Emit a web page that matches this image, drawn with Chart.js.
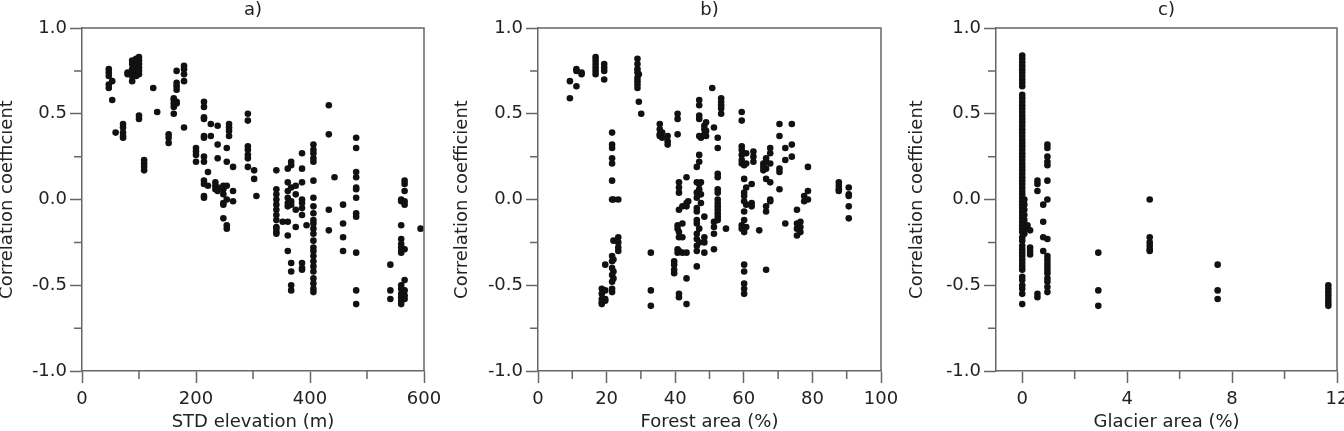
<!DOCTYPE html>
<html>
<head>
<meta charset="utf-8">
<script src="https://cdn.jsdelivr.net/npm/chart.js@4"></script>
<style>
  html, body { margin: 0; padding: 0; background: #fff; }
  body { position: relative; width: 1344px; height: 431px; overflow: hidden; }
  .panel { position: absolute; top: 0; height: 431px; }
</style>
</head>
<body>
<div class="panel" style="left:-14px;width:470px"><canvas id="chartA"></canvas></div>
<div class="panel" style="left:442px;width:472px"><canvas id="chartB"></canvas></div>
<div class="panel" style="left:900px;width:444px"><canvas id="chartC"></canvas></div>
<script>
// correlation axis, shared by the three panels
const corrTicks = [-1, -0.75, -0.5, -0.25, 0, 0.25, 0.5, 0.75, 1];
const corrMajor = [-1, -0.5, 0, 0.5, 1];

// a) STD elevation (m): x of each column and the correlations stacked on it
const elevTicks = [0, 100, 200, 300, 400, 500, 600];
const elevMajor = [0, 200, 400, 600];
const elevX = [47, 53, 59, 72, 80, 88, 95, 100, 109, 125, 132, 152, 161, 166, 179,
  200, 214, 221, 226, 234, 238, 248, 254, 258, 265, 291, 302, 306,
  341, 352, 361, 367, 375, 386, 394, 406, 433, 443, 458, 481, 541, 560, 566, 594];
const elevCorr = [
  [0.76, 0.74, 0.72, 0.67, 0.65],
  [0.69, 0.58],
  [0.39],
  [0.44, 0.42, 0.39, 0.37, 0.36],
  [0.74, 0.73],
  [0.81, 0.79, 0.76, 0.74, 0.72, 0.69],
  [0.82, 0.80, 0.78, 0.76, 0.74, 0.72],
  [0.83, 0.81, 0.79, 0.77, 0.75, 0.73, 0.49, 0.47],
  [0.23, 0.21, 0.19, 0.17],
  [0.65],
  [0.51],
  [0.38, 0.36, 0.33],
  [0.59, 0.58, 0.56, 0.54, 0.50],
  [0.75, 0.68, 0.66, 0.64, 0.57, 0.56],
  [0.78, 0.76, 0.73, 0.69, 0.42],
  [0.30, 0.28, 0.26, 0.22],
  [0.57, 0.54, 0.48, 0.47, 0.37, 0.36, 0.25, 0.22, 0.11, 0.09, 0.02, 0.01],
  [0.16, 0.08],
  [0.44, 0.37],
  [0.10, 0.08, 0.06],
  [0.43, 0.32, 0.24, 0.07, 0.05],
  [0.08, 0.06, 0.03, -0.02, -0.03, -0.11],
  [0.30, 0.22, 0.08, 0.00, -0.15, -0.17],
  [0.44, 0.42, 0.40, 0.37],
  [0.19, 0.05, -0.01],
  [0.50, 0.46, 0.31, 0.29, 0.26, 0.24, 0.19],
  [0.17, 0.12],
  [0.02],
  [0.17, 0.06, 0.03, 0.00, -0.03, -0.06, -0.09, -0.12, -0.16, -0.17, -0.19, -0.20],
  [-0.13],
  [0.18, 0.10, 0.05, 0.01, -0.02, -0.04, -0.13, -0.21, -0.30],
  [0.22, 0.20, 0.07, -0.01, -0.03, -0.37, -0.42, -0.50, -0.53],
  [0.08, 0.03, -0.06, -0.16],
  [0.27, 0.18, 0.10, 0.00, -0.02, -0.05, -0.09, -0.37, -0.40, -0.41],
  [-0.15],
  [0.32, 0.29, 0.27, 0.24, 0.22, 0.11, 0.01, -0.04, -0.08, -0.12, -0.14, -0.17, -0.20, -0.24,
   -0.28, -0.30, -0.33, -0.36, -0.39, -0.42, -0.46, -0.49, -0.52, -0.54],
  [0.55, 0.38, -0.06, -0.18],
  [0.13],
  [-0.03, -0.14, -0.22, -0.30],
  [0.36, 0.30, 0.16, 0.13, 0.07, 0.06, 0.01, -0.08, -0.10, -0.31, -0.53, -0.61],
  [-0.38, -0.53, -0.58],
  [0.00, -0.01, -0.15, -0.23, -0.26, -0.28, -0.30, -0.31, -0.50, -0.52, -0.55, -0.57, -0.59, -0.61],
  [0.11, 0.09, 0.05, -0.01, -0.03, -0.29, -0.47, -0.53, -0.56, -0.58],
  [-0.17]
];

// b) Forest area (%)
const forestTicks = [0, 10, 20, 30, 40, 50, 60, 70, 80, 90, 100];
const forestMajor = [0, 20, 40, 60, 80, 100];
const forestX = [9.3, 11.2, 12.7, 16.8, 18.6, 19.3, 19.6, 21.6, 22.0, 23.4, 29.0, 29.4, 30.1,
  32.9, 35.5, 36.2, 37.8, 39.7, 40.7, 41.1, 42.1, 43.3, 43.8, 46.3, 47.0, 47.5, 48.5, 49.0,
  50.8, 51.3, 52.4, 53.4, 54.8, 59.4, 60.1, 60.7, 62.3, 62.8, 64.5, 65.7, 66.5, 67.7,
  70.4, 72.1, 74.0, 75.5, 76.5, 77.6, 78.7, 87.7, 90.6];
const forestCorr = [
  [0.69, 0.59],
  [0.76, 0.75, 0.66],
  [0.74, 0.73],
  [0.83, 0.81, 0.79, 0.77, 0.75, 0.73],
  [-0.52, -0.55, -0.58, -0.60, -0.61],
  [0.79, 0.77, 0.75, 0.70],
  [-0.38, -0.53, -0.58, -0.59],
  [0.39, 0.32, 0.30, 0.24, 0.21, 0.11, 0.00, -0.33, -0.36, -0.40, -0.44, -0.48, -0.52, -0.54],
  [0.00, -0.24, -0.35, -0.42, -0.46],
  [0.00, -0.22, -0.25, -0.28, -0.30],
  [0.82, 0.79, 0.76, 0.74, 0.71, 0.69, 0.67, 0.65],
  [0.73, 0.57],
  [0.50],
  [-0.31, -0.53, -0.62],
  [0.44, 0.41, 0.38, 0.37],
  [0.39, 0.36],
  [0.37, 0.34, 0.32],
  [-0.36, -0.38, -0.41, -0.43],
  [0.50, 0.47, 0.38, -0.15, -0.17, -0.29, -0.31],
  [0.10, 0.07, 0.04, -0.06, -0.19, -0.22, -0.30, -0.55, -0.57],
  [-0.04, -0.14, -0.22, -0.31],
  [0.13, -0.02, -0.04, -0.31, -0.46, -0.61],
  [-0.01],
  [0.19, 0.10, 0.04, 0.01, -0.05, -0.07, -0.12, -0.14, -0.20, -0.23, -0.27, -0.30, -0.39],
  [0.58, 0.55, 0.49, 0.47, 0.37, 0.26, 0.22, 0.09, 0.06, -0.17, -0.25],
  [0.36, 0.10, 0.03, -0.02],
  [0.43, 0.41, 0.38, -0.10, -0.22, -0.25, -0.31],
  [0.45, 0.40, 0.37],
  [0.65],
  [0.42, -0.13, -0.16, -0.20, -0.29],
  [0.36, 0.30, 0.15, 0.13, 0.06, 0.04, 0.00, -0.02, -0.04, -0.06, -0.08, -0.10, -0.12],
  [0.59, 0.57, 0.55, 0.53, 0.50],
  [-0.17],
  [0.51, 0.46, 0.31, 0.29, 0.26, 0.23, 0.21, -0.15, -0.17],
  [0.20, 0.12, 0.04, 0.02, -0.01, -0.07, -0.12, -0.19, -0.38, -0.42, -0.49, -0.52, -0.55],
  [0.27, 0.21, 0.07, -0.03, -0.16],
  [0.09, -0.02, -0.04],
  [0.28, 0.25, 0.22],
  [-0.18],
  [0.21, 0.19, 0.17],
  [0.24, 0.22, 0.18, 0.12, -0.04, -0.07, -0.41],
  [0.30, 0.27, 0.21, 0.10, 0.00, -0.01],
  [0.44, 0.37, 0.18, 0.16, 0.06],
  [0.30, 0.23, -0.14],
  [0.44, 0.32, 0.25],
  [-0.06, -0.14, -0.17, -0.21],
  [-0.13, -0.16, -0.19],
  [0.02, -0.01],
  [0.19, 0.05, 0.00],
  [0.10, 0.08, 0.06, 0.05],
  [0.07, 0.03, 0.02, -0.04, -0.11]
];

// c) Glacier area (%)
const glacierTicks = [0, 2, 4, 6, 8, 10, 12];
const glacierMajor = [0, 4, 8, 12];
const glacierX = [0, 0.08, 0.2, 0.3, 0.58, 0.8, 0.96, 2.9, 4.86, 7.45, 11.67];
const glacierCorr = [
  [0.84, 0.82, 0.80, 0.78, 0.76, 0.74, 0.72, 0.70, 0.68, 0.66,
   0.61, 0.59, 0.57, 0.55, 0.53, 0.51, 0.49, 0.47, 0.45, 0.43, 0.41, 0.39, 0.37, 0.35,
   0.33, 0.31, 0.29, 0.27, 0.25, 0.23, 0.21, 0.19, 0.17, 0.15, 0.13, 0.11, 0.09, 0.07,
   0.05, 0.03, 0.01, -0.01, -0.03, -0.05, -0.07, -0.09, -0.11, -0.13, -0.15, -0.17, -0.19,
   -0.22, -0.24, -0.27, -0.29, -0.31, -0.33, -0.35, -0.37, -0.39, -0.41, -0.45, -0.47,
   -0.50, -0.52, -0.55, -0.61],
  [0.00, -0.03, -0.06, -0.09, -0.12, -0.16, -0.20],
  [-0.15, -0.17],
  [-0.18, -0.28, -0.30, -0.32],
  [0.11, 0.09, 0.05, -0.55, -0.57],
  [-0.03, -0.13, -0.22, -0.30],
  [0.32, 0.30, 0.25, 0.22, 0.20, 0.11, 0.00, -0.23, -0.33, -0.35, -0.37, -0.39, -0.41,
   -0.43, -0.46, -0.48, -0.51, -0.54],
  [-0.31, -0.53, -0.62],
  [0.00, -0.22, -0.25, -0.27, -0.29, -0.30],
  [-0.38, -0.53, -0.58],
  [-0.50, -0.52, -0.54, -0.56, -0.58, -0.60, -0.62]
];

const frameColor = "#666";
const textColor = "#222";

Chart.defaults.font.family = "'DejaVu Sans', sans-serif";
Chart.defaults.font.size = 18;
Chart.defaults.color = textColor;

function toPoints(xs, cols) {
  return xs.flatMap((x, i) => cols[i].map((y) => ({ x, y })));
}

// top/right frame lines and the short minor ticks
const framePlugin = {
  id: "frame",
  afterDraw(chart, args, opts) {
    const { ctx, chartArea: a, scales } = chart;
    ctx.save();
    ctx.strokeStyle = frameColor;
    ctx.lineWidth = 1.5;
    ctx.beginPath();
    ctx.moveTo(a.left, a.top);
    ctx.lineTo(a.right, a.top);
    ctx.lineTo(a.right, a.bottom);
    opts.xMinor.forEach((v) => {
      const px = scales.x.getPixelForValue(v);
      ctx.moveTo(px, a.bottom);
      ctx.lineTo(px, a.bottom + 8);
    });
    opts.yMinor.forEach((v) => {
      const py = scales.y.getPixelForValue(v);
      ctx.moveTo(a.left, py);
      ctx.lineTo(a.left - 8, py);
    });
    ctx.stroke();
    ctx.restore();
  },
};

function makePanel(id, cfg) {
  const xMinor = cfg.xTicks.filter((v) => !cfg.xMajor.includes(v));
  const yMinor = corrTicks.filter((v) => !corrMajor.includes(v));
  return new Chart(document.getElementById(id), {
    type: "scatter",
    data: {
      datasets: [{
        data: toPoints(cfg.xs, cfg.cols),
        pointRadius: 3.3,
        pointBackgroundColor: "#111",
        pointBorderWidth: 0,
      }],
    },
    options: {
      responsive: true,
      maintainAspectRatio: false,
      animation: false,
      events: [],
      layout: { padding: { left: 0, right: cfg.padRight, top: 0, bottom: 0 } },
      plugins: {
        legend: { display: false },
        tooltip: { enabled: false },
        title: {
          display: true,
          text: cfg.title,
          fullSize: false,
          color: textColor,
          font: { size: 18, weight: "normal", lineHeight: 1.2 },
          padding: { top: 0, bottom: 6.4 },
        },
        frame: { xMinor, yMinor },
      },
      scales: {
        x: {
          type: "linear",
          min: cfg.xMin,
          max: cfg.xMax,
          afterBuildTicks: (s) => { s.ticks = cfg.xTicks.map((value) => ({ value })); },
          afterFit: (s) => { s.height = 60; s.paddingLeft = 0; s.paddingRight = 0; },
          ticks: {
            padding: 6,
            maxRotation: 0,
            autoSkip: false,
            callback: (v) => (cfg.xMajor.includes(v) ? String(v) : ""),
          },
          grid: {
            drawOnChartArea: false,
            tickLength: 12,
            tickWidth: 1.5,
            tickColor: (c) => (c.tick && cfg.xMajor.includes(c.tick.value) ? frameColor : "rgba(0,0,0,0)"),
          },
          border: { display: true, color: frameColor, width: 1.5 },
          title: {
            display: true,
            text: cfg.xTitle,
            color: textColor,
            font: { size: 18, lineHeight: 1 },
            padding: { top: 0, bottom: 0 },
          },
        },
        y: {
          type: "linear",
          min: -1,
          max: 1,
          afterBuildTicks: (s) => { s.ticks = corrTicks.map((value) => ({ value })); },
          afterFit: (s) => { s.width = 96; s.paddingTop = 0; s.paddingBottom = 0; },
          ticks: {
            padding: 3,
            autoSkip: false,
            callback: (v) => (corrMajor.includes(v) ? v.toFixed(1) : ""),
          },
          grid: {
            drawOnChartArea: false,
            tickLength: 12,
            tickWidth: 1.5,
            tickColor: (c) => (c.tick && corrMajor.includes(c.tick.value) ? frameColor : "rgba(0,0,0,0)"),
          },
          border: { display: true, color: frameColor, width: 1.5 },
          title: {
            display: true,
            text: "Correlation coefficient",
            color: textColor,
            font: { size: 18, lineHeight: 1 },
            padding: { top: cfg.yTitlePad, bottom: 0 },
          },
        },
      },
    },
    plugins: [framePlugin],
  });
}

makePanel("chartA", {
  title: "a)", xTitle: "STD elevation (m)",
  xs: elevX, cols: elevCorr, xTicks: elevTicks, xMajor: elevMajor,
  xMin: 0, xMax: 600, padRight: 32, yTitlePad: 12,
});
makePanel("chartB", {
  title: "b)", xTitle: "Forest area (%)",
  xs: forestX, cols: forestCorr, xTicks: forestTicks, xMajor: forestMajor,
  xMin: 0, xMax: 100, padRight: 33, yTitlePad: 11,
});
makePanel("chartC", {
  title: "c)", xTitle: "Glacier area (%)",
  xs: glacierX, cols: glacierCorr, xTicks: glacierTicks, xMajor: glacierMajor,
  xMin: -1, xMax: 12, padRight: 7, yTitlePad: 8,
});
</script>
</body>
</html>
